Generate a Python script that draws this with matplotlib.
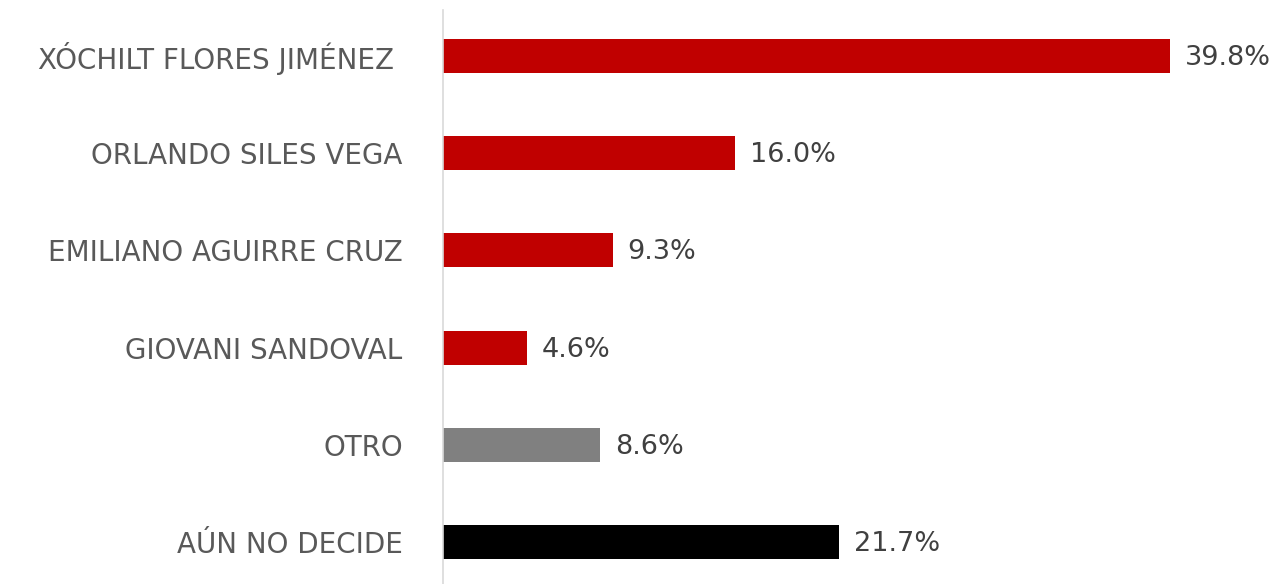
import matplotlib.pyplot as plt

plt.rcParams['font.family'] = ['DejaVu Sans']

candidates = ["XÓCHILT FLORES JIMÉNEZ ", "ORLANDO SILES VEGA", "EMILIANO AGUIRRE CRUZ",
              "GIOVANI SANDOVAL", "OTRO", "AÚN NO DECIDE"]
shares = [39.8, 16.0, 9.3, 4.6, 8.6, 21.7]
colors = ["#C00000", "#C00000", "#C00000", "#C00000", "#808080", "#000000"]

W, H = 1281, 584
fig = plt.figure(figsize=(W / 100, H / 100), dpi=100)
ax = fig.add_axes([443 / W, 0, 822 / W, 574 / H])

pos = list(range(len(candidates)))
ax.barh(pos, shares, height=0.35, color=colors)
for p, v in zip(pos, shares):
    ax.text(v + 0.8, p + 0.02, f"{v:.1f}%", va="center", ha="left", fontsize=19.5, color="#404040")

ax.set_xlim(0, 45)
ax.set_ylim(5.43, -0.473)
ax.set_yticks(pos)
ax.set_yticklabels(candidates, fontsize=20, color="#595959")
ax.tick_params(axis="y", length=0, pad=29)
ax.set_xticks([])
for s in ["top", "right", "bottom"]:
    ax.spines[s].set_visible(False)
ax.spines["left"].set_color("#D9D9D9")
ax.spines["left"].set_linewidth(1.2)

fig.savefig("out.png", dpi=100)
